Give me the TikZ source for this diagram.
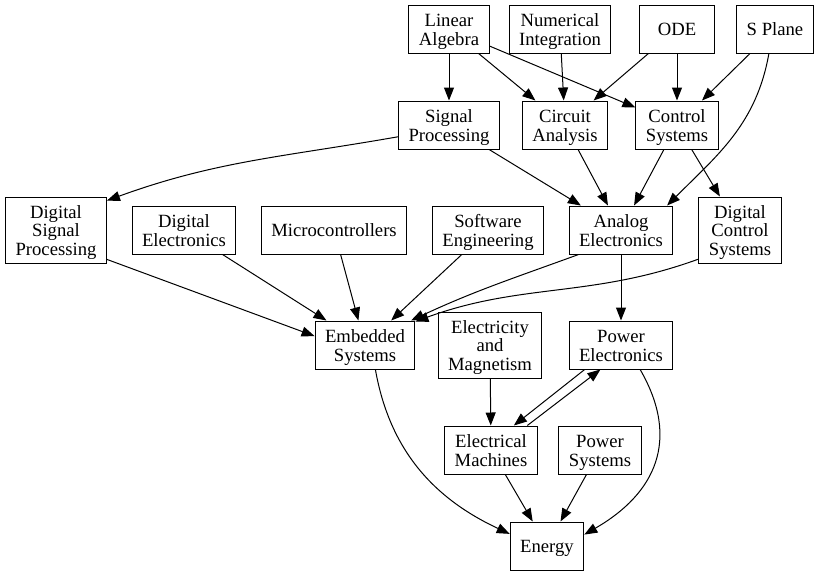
\documentclass[tikz,border=0pt]{standalone}
\usepackage{fontspec}
\setmainfont{Liberation Serif}
\usetikzlibrary{arrows.meta, calc}
\newcommand{\tstrut}{\rule{0pt}{13.6pt}}
\newcommand{\bstrut}{\rule[-3.2pt]{0pt}{3.2pt}}

\begin{document}
\begin{tikzpicture}[x=0.75pt, y=0.75pt, line width=0.75pt,
    font=\fontsize{14}{13.7}\selectfont,
    >={Triangle[length=9.75pt, width=7.5pt]},
    box/.style={draw, align=center, inner xsep=7.5pt, inner ysep=0pt, minimum height=36pt},
    tall/.style={box, minimum height=49.5pt}]
  \useasboundingbox (0,0) rectangle (819,-576);
  % top row
  \node (la) at (449,-29) [box] {\tstrut Linear\\Algebra\bstrut};
  \node (ni) at (560,-29) [box] {\tstrut Numerical\\Integration\bstrut};
  \node (ode) at (677,-29) [box, minimum width=56pt] {\tstrut ODE\bstrut};
  \node (sp) at (775,-29) [box] {\tstrut S Plane\bstrut};
  \node (sig) at (449,-125) [box] {\tstrut Signal\\Processing\bstrut};
  \node (ca) at (565,-125) [box] {\tstrut Circuit\\Analysis\bstrut};
  \node (cs) at (677,-125) [box] {\tstrut Control\\Systems\bstrut};
  % middle row
  \node (dsp) at (56,-230) [tall] {\tstrut Digital\\Signal\\Processing\bstrut};
  \node (de) at (184,-230) [box] {\tstrut Digital\\Electronics\bstrut};
  \node (mc) at (334,-230) [box] {\tstrut Microcontrollers\bstrut};
  \node (se) at (488,-230) [box] {\tstrut Software\\Engineering\bstrut};
  \node (ae) at (621,-230) [box] {\tstrut Analog\\Electronics\bstrut};
  \node (dcs) at (740,-230) [tall] {\tstrut Digital\\Control\\Systems\bstrut};
  % bottom rows
  \node (es) at (365,-345) [box] {\tstrut Embedded\\Systems\bstrut};
  \node (em) at (490,-345) [tall] {\tstrut Electricity\\and\\Magnetism\bstrut};
  \node (pe) at (621,-345) [box] {\tstrut Power\\Electronics\bstrut};
  \node (mach) at (491,-450) [box] {\tstrut Electrical\\Machines\bstrut};
  \node (ps) at (600,-450) [box] {\tstrut Power\\Systems\bstrut};
  \node (en) at (547,-546) [box, minimum width=55pt] {\tstrut Energy\bstrut};

  \draw[->] (la) to (sig);
  \draw[->] (la) to (ca);
  \draw[->] (la) to (cs);
  \draw[->] (ni) to (ca);
  \draw[->] (ode) to (ca);
  \draw[->] (ode) to (cs);
  \draw[->] (sp) to (cs);
  \draw[->] (sp.-104) to[out=-100, in=45] (ae.28);
  \draw[->] (sig.193) to[out=190, in=20] (dsp.30);
  \draw[->] (sig) to (ae);
  \draw[->] (ca) to (ae);
  \draw[->] (cs) to (ae);
  \draw[->] (cs) to (dcs);
  \draw[->] (dsp.-30) to (es.170);
  \draw[->] (de) to (es);
  \draw[->] (mc) to (es);
  \draw[->] (se) to (es);
  \draw[->] (ae.-150) to[out=200, in=25] (es.28);
  \draw[->] (dcs.-145) to[out=200, in=20] (es.25);
  \draw[->] (ae) to (pe);
  \draw[->] (em) to (mach);
  \draw[->] (pe.214) to (mach.47); % two edges, one each way
  \draw[->] (mach.34) to (pe.230);
  \draw[->] (es.-67) to[out=-80, in=155] (en.162);
  \draw[->] (mach) to (en);
  \draw[->] (ps) to (en);
  \draw[->] (pe.-52) to[out=-60, in=30, looseness=1.2] (en.17);
\end{tikzpicture}
\end{document}
